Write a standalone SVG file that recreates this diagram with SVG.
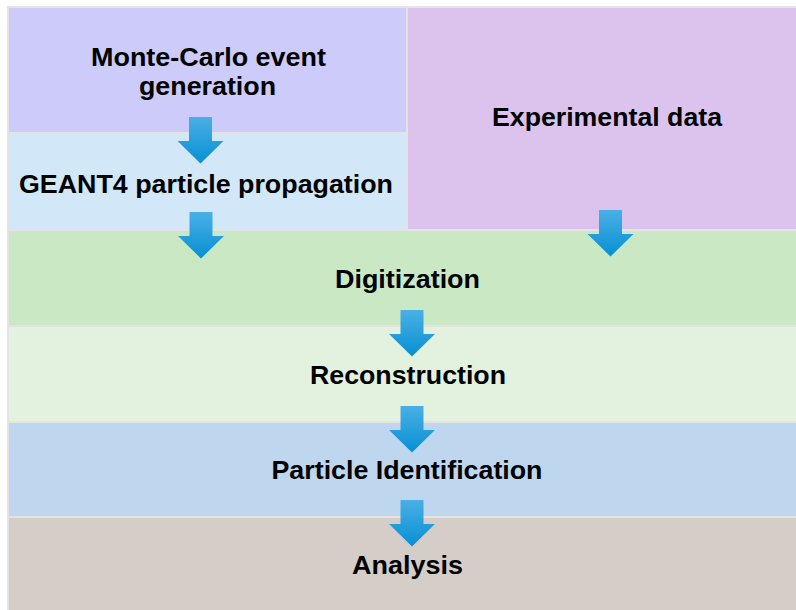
<svg xmlns="http://www.w3.org/2000/svg" width="796" height="610" viewBox="0 0 796 610">
  <style>
    .lbl { font-family: "Liberation Sans", Arial, sans-serif; font-weight: bold; font-size: 25px; fill: #000; text-anchor: middle; }
  </style>
  <defs>
    <linearGradient id="arrowFill" x1="0" y1="0" x2="0" y2="1">
      <stop offset="0" stop-color="#4aafe5"/>
      <stop offset="1" stop-color="#0790d3"/>
    </linearGradient>
    <!-- block arrow: shaft then triangular head, origin at top centre of the shaft -->
    <path id="blockArrow" d="M -11.5 0 H 11.5 V 24 H 23 L 0 46.5 L -23 24 H -11.5 Z" fill="url(#arrowFill)"/>
  </defs>

  <rect x="0" y="0" width="796" height="610" fill="#ffffff"/>
  <!-- grid lines show through the gaps between cells -->
  <rect x="7" y="6" width="789" height="604" fill="#e3e3e3"/>

  <g id="mc-generation">
    <rect x="9" y="8" width="397" height="124" fill="#cdcbfa"/>
    <text class="lbl" x="208.5" y="65.5" textLength="235" lengthAdjust="spacingAndGlyphs">Monte-Carlo event</text>
    <text class="lbl" x="207.5" y="94.5" textLength="137" lengthAdjust="spacingAndGlyphs">generation</text>
  </g>

  <g id="geant4">
    <rect x="9" y="134" width="397" height="95" fill="#d2e7f7"/>
    <text class="lbl" x="206" y="192.5" textLength="374" lengthAdjust="spacingAndGlyphs">GEANT4 particle propagation</text>
  </g>

  <g id="experimental-data">
    <rect x="408" y="8" width="388" height="221" fill="#dcc3ee"/>
    <text class="lbl" x="607" y="126" textLength="230" lengthAdjust="spacingAndGlyphs">Experimental data</text>
  </g>

  <g id="digitization">
    <rect x="9" y="231" width="787" height="94" fill="#cbe8c4"/>
    <text class="lbl" x="407.5" y="287.5" textLength="145" lengthAdjust="spacingAndGlyphs">Digitization</text>
  </g>

  <g id="reconstruction">
    <rect x="9" y="327" width="787" height="94" fill="#e3f2de"/>
    <text class="lbl" x="408" y="383.5" textLength="196" lengthAdjust="spacingAndGlyphs">Reconstruction</text>
  </g>

  <g id="particle-identification">
    <rect x="9" y="423" width="787" height="93" fill="#bfd6ef"/>
    <text class="lbl" x="407" y="479" textLength="271" lengthAdjust="spacingAndGlyphs">Particle Identification</text>
  </g>

  <g id="analysis">
    <rect x="9" y="518" width="787" height="92" fill="#d5cec8"/>
    <text class="lbl" x="407.5" y="574" textLength="111" lengthAdjust="spacingAndGlyphs">Analysis</text>
  </g>

  <g id="connectors">
    <use href="#blockArrow" transform="translate(200.5,117)"/>
    <use href="#blockArrow" transform="translate(201,212)"/>
    <use href="#blockArrow" transform="translate(610.5,210)"/>
    <use href="#blockArrow" transform="translate(412,310)"/>
    <use href="#blockArrow" transform="translate(412,406)"/>
    <use href="#blockArrow" transform="translate(412,500)"/>
  </g>
</svg>
